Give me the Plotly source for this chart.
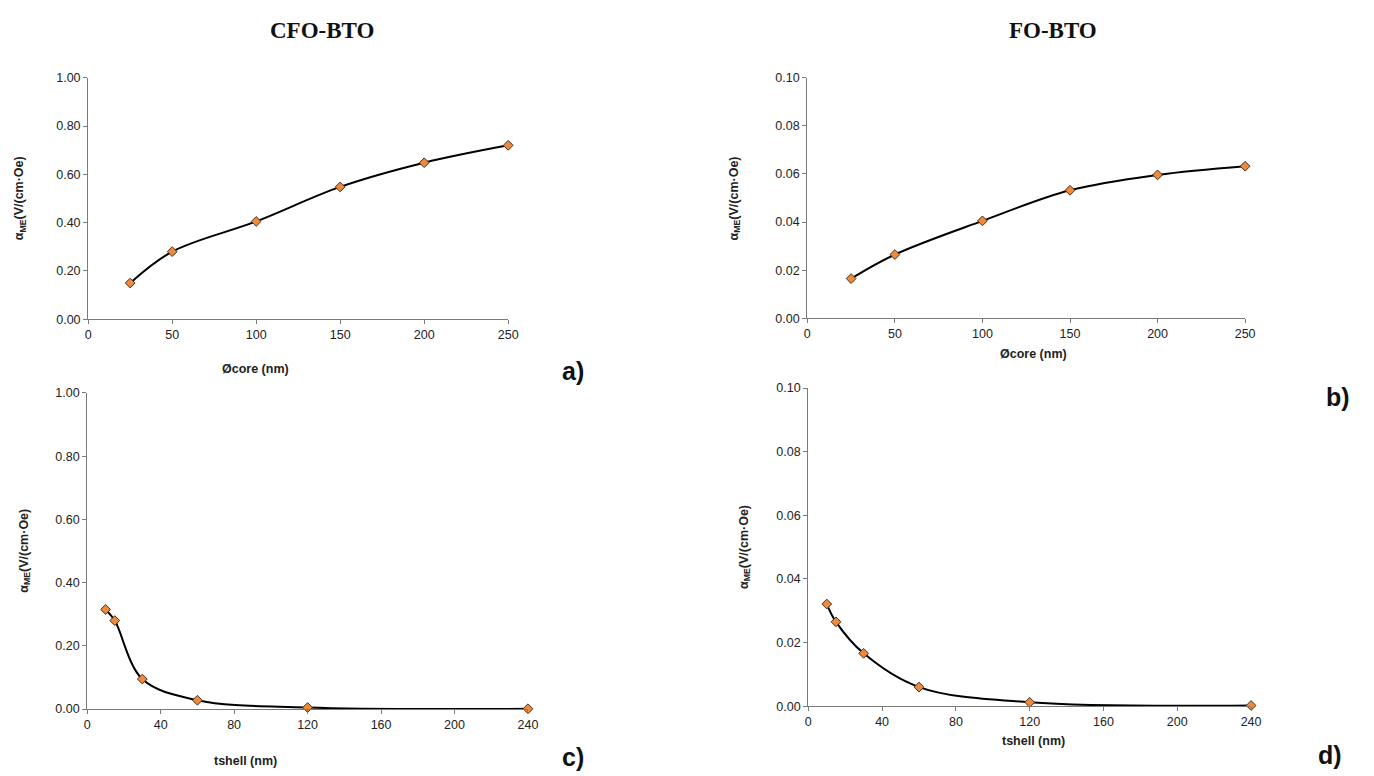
import plotly.graph_objects as go

# ---- data ----
core_d = [25, 50, 100, 150, 200, 250]
cfo_core = [0.150, 0.280, 0.405, 0.548, 0.648, 0.720]
fo_core = [0.0165, 0.0265, 0.0405, 0.0532, 0.0596, 0.0632]

shell_t = [10, 15, 30, 60, 120, 240]
cfo_shell = [0.315, 0.280, 0.095, 0.028, 0.005, 0.001]
fo_shell = [0.0321, 0.0265, 0.0166, 0.0060, 0.0012, 0.0002]

W, H = 1374, 776

def dx(a, b):
    return [a / W, b / W]

def dy(bottom, top):
    return [1 - bottom / H, 1 - top / H]

fig = go.Figure()

panels = [
    ("x", "y", core_d, cfo_core, (86, 510), (318, 72), [0, 250], 50, [0, 1.0], 0.2),
    ("x2", "y2", core_d, fo_core, (812, 1254), (317, 72), [0, 250], 50, [0, 0.10], 0.02),
    ("x3", "y3", shell_t, cfo_shell, (85, 530), (715, 393), [0, 240], 40, [0, 1.0], 0.2),
    ("x4", "y4", shell_t, fo_shell, (813, 1260), (712, 388), [0, 240], 40, [0, 0.10], 0.02),
]

tickfont = dict(family="Liberation Sans, Arial, sans-serif", size=12.5, color="#222222")
layout = {}
for xa, ya, xs, ys, xd, yd, xr, xdt, yr, ydt in panels:
    fig.add_trace(go.Scatter(
        x=xs, y=ys, xaxis=xa, yaxis=ya, mode="lines+markers",
        line=dict(color="black", width=2, shape="spline", smoothing=1.0),
        marker=dict(symbol="diamond", size=7.5, color="#EE8A3C",
                    line=dict(color="#4a3020", width=1)),
        cliponaxis=False, showlegend=False,
    ))
    xkey = "xaxis" + xa[1:]
    ykey = "yaxis" + ya[1:]
    layout[xkey] = dict(
        domain=dx(*xd), range=xr, dtick=xdt, tick0=0, anchor=ya,
        showline=True, linecolor="#7a7a7a", linewidth=1.2,
        ticks="outside", ticklen=4, tickcolor="#7a7a7a",
        showgrid=False, zeroline=False, tickfont=tickfont,
    )
    layout[ykey] = dict(
        domain=dy(*yd), range=yr, dtick=ydt, tick0=0, anchor=xa,
        showline=True, linecolor="#7a7a7a", linewidth=1.2,
        ticks="outside", ticklen=4, tickcolor="#7a7a7a",
        showgrid=False, zeroline=False, tickfont=tickfont, tickformat=".2f",
    )

fig.update_layout(**layout)

annots = []
bold = dict(family="Liberation Sans, Arial, sans-serif", size=12.5, color="#222222")
ytitle = "<b>α<sub>ME</sub>(V/(cm·Oe)</b>"
for x, y in [(18, 195), (739, 195), (22, 554), (749, 550)]:
    annots.append(dict(x=x / W, y=1 - y / H, xref="paper", yref="paper", text=ytitle,
                       textangle=-90, showarrow=False, font=bold,
                       xanchor="center", yanchor="middle"))
for x, y, t in [(255, 369, "Øcore (nm)"), (1040, 353, "Øcore (nm)"),
                (245, 768, "tshell (nm)"), (1040, 747, "tshell (nm)")]:
    annots.append(dict(x=x / W, y=1 - y / H, xref="paper", yref="paper", text="<b>" + t + "</b>",
                       showarrow=False, font=bold, xanchor="center", yanchor="middle"))
labfont = dict(family="Liberation Sans, Arial, sans-serif", size=25, color="#111111")
for x, y, t in [(575, 371, "a)"), (1348, 397, "b)"), (575, 764, "c)"), (1340, 762, "d)")]:
    annots.append(dict(x=x / W, y=1 - y / H, xref="paper", yref="paper", text="<b>" + t + "</b>",
                       showarrow=False, font=labfont, xanchor="center", yanchor="middle"))
titfont = dict(family="Liberation Serif, Times New Roman, serif", size=23, color="#111111")
for x, t in [(322, "CFO-BTO"), (1060, "FO-BTO")]:
    annots.append(dict(x=x / W, y=1 - 24 / H, xref="paper", yref="paper", text="<b>" + t + "</b>",
                       showarrow=False, font=titfont, xanchor="center", yanchor="middle"))

fig.update_layout(
    width=W, height=H, margin=dict(l=0, r=0, t=0, b=0),
    paper_bgcolor="white", plot_bgcolor="white",
    annotations=annots,
)

fig.write_html("out.html", config={"displayModeBar": False},
               post_script="document.body.style.margin='0';document.body.style.overflow='hidden';")
